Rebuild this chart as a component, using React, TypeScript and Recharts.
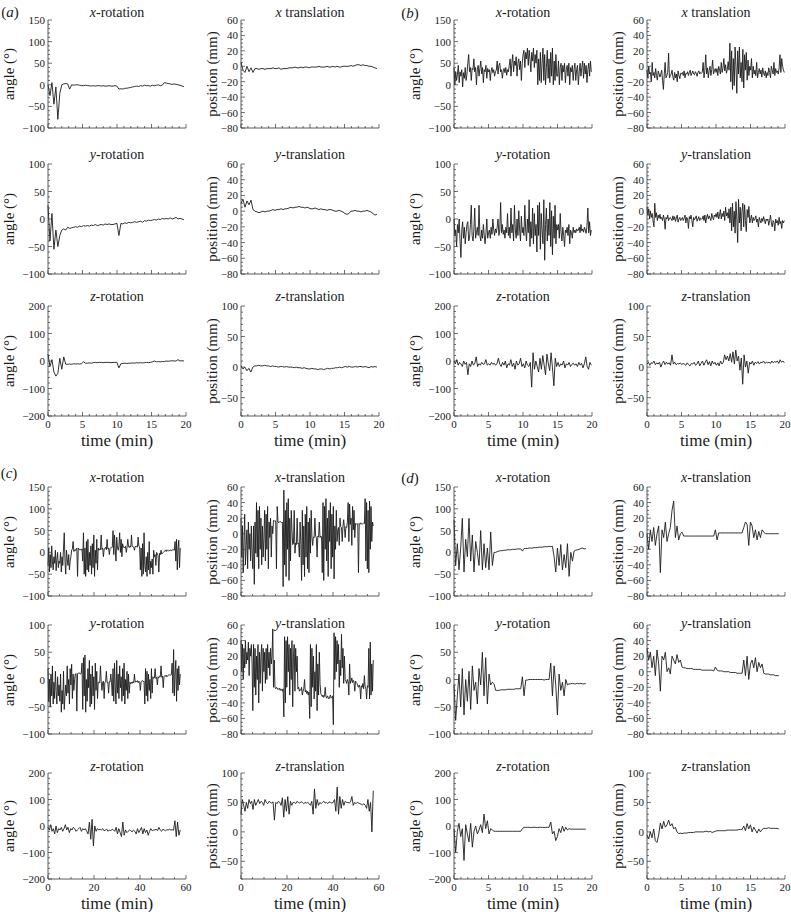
import React from 'react';
import { LineChart, Line, XAxis, YAxis } from 'recharts';

// ---- (a) ----
const aXRot = [0, -25, 5, -45, -5, -80, -20, 0, 2, 3, 2, -10, 0, -1, 0, 0, -1, -2, -2, -1, -2, -2, -3, -2, -3, -2, -2, -3, -2, -3, -3, -2, -3, -3, -2, -3, -10, -9, -10, -8, -8, -7, -6, -5, -4, -3, -4, -2, -3, -1, -2, -2, -3, -1, -2, -1, 0, -2, -1, 5, 4, 3, 2, 1, 2, 1, 0, -1, -3, -4];
const aXTrans = [5, -5, -8, 0, -7, -2, -8, -3, -3, -4, -3, -3, -4, -3, -3, -3, -2, -3, -3, -2, -4, -3, -3, -3, -2, -2, -2, -1, -2, -2, -1, -2, -1, -1, -2, -1, -1, -1, -1, 0, -1, -1, -1, 0, -1, -1, 0, -1, 0, -1, -1, 0, 0, 0, 0, 1, 0, 1, 2, 2, 1, 2, 1, 1, 0, 0, -1, -2, -3];
const aYRot = [25, -40, 10, -55, -20, -50, -30, -20, -18, -20, -15, -17, -16, -15, -14, -15, -13, -14, -12, -13, -12, -13, -11, -12, -10, -12, -11, -10, -11, -9, -10, -9, -10, -10, -9, -8, -30, -8, -9, -7, -8, -6, -7, -6, -5, -6, -5, -4, -6, -3, -4, -2, -3, -2, -1, -2, 0, -1, 1, 0, 1, 0, 2, 0, 1, 3, 0, 1, 0, -1];
const aYTrans = [10, 15, 5, 13, 8, 14, 2, 0, -1, -2, -1, 0, -1, 0, 0, 1, 2, 1, 2, 2, 3, 2, 3, 3, 4, 5, 4, 5, 5, 6, 5, 5, 4, 5, 4, 3, 3, 4, 3, 2, 3, 2, 2, 1, 2, 2, 1, 0, 0, 1, 0, -1, -3, -4, -3, 0, 0, 1, 0, 0, -1, 0, 0, 1, 0, -1, -3, -5, -4];
const aZRot = [25, -20, 5, -40, -55, -45, 10, -30, 15, -12, -12, -11, -12, -10, -11, -10, -11, -10, -3, -8, -8, -7, -8, -6, -5, -6, -5, -5, -6, -5, -5, -5, -6, -5, -5, -5, -25, -10, -9, -8, -9, -8, -8, -7, -8, -6, -7, -6, -7, -6, -5, -6, -5, -3, 0, -3, -2, -3, -2, -2, 0, -1, 0, 1, 0, 0, 5, 0, 1, 0];
const aZTrans = [2, -3, 0, -6, -2, -8, 0, 2, 2, 3, 2, 2, 3, 2, 2, 1, 2, 1, 1, 0, 1, 1, 0, 1, 0, 0, 0, -1, 0, -1, -1, -2, -1, -2, -3, -3, -2, -3, -3, -4, -3, -3, -4, -3, -2, -3, -2, -2, -1, -1, 0, -1, 0, 1, 0, 1, 0, 0, 1, 0, 1, 1, 0, 1, 0, -1, 1, 0, 1, 0];

// ---- (b) ----
const bXRot = [
  40, 0, 30, 10, 25, 45, 5, 30, 20, 35, -5, 28, 15, 40, 10, 25,
  50, 70, 30, 40, 10, 38, 35, 60, 30, 40, 0, 35, 45, 20, 38, 55, 25, 40, 5, 35, 30, 45, 15, 38,
  30, 35, 10, 32, 40, 28, 35, 20, 30, 34, 55, 25, 45, 50, 30, 35, 15, 32, 38, 28, 40, 22, 35, 30,
  45, 60, 20, 50, 70, 30, 55, 45, 65, 20, 50, 60, 35, 55, 10, 50,
  70, 80, 40, 75, 60, 85, 45, 80, 60, 30, 75, 55, 85, 40, 70, 50,
  80, 0, 60, 10, 75, 5, 50, 85, 10, 70, 0, 40, 80, 15, 60, 5, 75, 20, 85, 0, 55, 10, 70, 20,
  20, 55, 0, 40, 50, 10, 45, 30, 50, 5, 35, 45, 20, 50, 0, 40, 30, 45, 10, 35,
  50, 10, 35, 45, 0, 30, 50, 20, 40, 55, 15, 50, 25, 45, 5, 35, 50, 20, 55, 30,
];
const bXTrans = [
  -5, -15, 0, -10, -8, -20, 5, -12, -8, -15, -3, -12, -18, -6, -10, -14,
  -10, -5, -18, -30, -10, 5, -15, -12, -8, 17, -15, -12, -10, -5, -14, -18, -8, -15, -10, -20, -6, -12, -16, -9,
  -10, -8, -12, -6, -15, -9, -10, -7, -12, -8, -5, -12, -9, -6, -10, -11, -7, -9, -13, -8, -6, -10, -8, -9,
  -8, 5, -15, -5, 15, -10, -2, -15, -5, 0, -12, -4, 8, -10, -6, -3,
  -8, -3, -12, 0, -5, -10, 5, -8, -2, 10, -6, 2, -9, -4, 6, -5,
  30, -20, 20, -30, 10, -25, 25, 0, -35, 20, -10, 25, -15, 5, -20, 22, -28, 15, -5, 18, -18, 8, -12, 0,
  -5, 10, -15, 0, -10, -5, -12, 5, -15, -8, -3, -10, -5, -14, -2, -9, -12, -6, -15, -8,
  -12, -2, -8, -15, 0, -5, -10, 5, -12, -3, -8, -6, -10, -2, 15, -8, 10, 0, -5, -8,
];
const bYRot = [
  0, -30, -20, -50, -10, -25, 0, -40, -70, -20, -5, -35, -15, -45, -25, -10,
  -5, -40, -35, -10, 25, -30, -40, -20, 20, -35, -25, -15, -30, 25, -30, -40, -20, -35, -10, -30, -45, -25, 0, -35,
  -25, -20, -35, -15, -28, 0, -20, -30, -18, -25, -15, 0, -30, -20, 30, -25, -10, -28, -20, -35, -15, -25, 10, -30,
  -15, -35, 20, -25, -10, -40, 25, -20, -35, 0, -30, 15, -20, -40, 5, -25,
  -15, -30, 25, -20, -40, 0, -25, 35, -50, -5, -35, 20, -45, 10, -30, -10,
  -60, 25, -30, 30, -55, 10, -20, -45, 35, -75, -10, 20, -40, 0, -30, 30, -50, 15, -65, 5, -35, 25, -45, -10,
  -20, -10, -35, 10, -25, -40, -15, -30, -50, -20, -25, -15, -30, -10, -45, -20, -25, -35, -15, -25,
  -20, -25, -18, -22, -20, -15, -25, -10, -22, -18, -24, -15, -20, -26, -12, 20, -25, -5, -30, -20,
];
const bYTrans = [
  5, -5, 3, -10, 0, -8, -3, -12, -20, 10, -8, -2, -12, -5, -9, -4,
  -10, -8, -12, -5, -10, -23, -8, -10, -5, -12, -9, -8, -10, -12, -6, -11, -7, -13, -9, -5, -14, -10, -8, -12,
  -10, -8, -12, -9, -5, -15, -8, -10, -22, -7, -10, -5, -12, -20, -8, -11, -9, -6, -13, -10, -7, -12, -9, -10,
  -10, -6, -12, -5, -15, -8, -4, -10, -6, -9, -12, -3, -8, -11, -5, -7,
  -3, -8, -1, -10, -5, 2, -10, -3, -7, 0, -12, 5, -6, -2, -9, 3,
  -15, 5, -25, 10, -20, 0, -28, 12, -10, -40, 15, -15, 5, -25, 0, 10, -20, 8, -12, -26, 2, -8, 6, -15,
  -10, -5, -15, -8, -12, -10, -6, -14, -10, -20, -8, -12, -15, -9, -13, -7, -11, -16, -10, -12,
  -10, -18, -12, -5, -15, -20, -12, -14, -25, -10, -15, -12, -18, -8, -16, -13, -22, -12, -15, -12,
];
const bZRot = [0, -10, 5, -15, -5, -10, -20, 0, -12, -5, -50, -10, -20, 0, -15, -8, 15, -20, -10, -15, -5, -12, -10, 5, -15, -10, -15, -5, -12, -8, -15, -10, 10, -12, -20, -5, -15, 0, -25, -10, -15, 5, -20, -8, -30, 0, -15, -10, 10, -20, -10, -25, 0, -15, -20, -5, -95, 30, -30, 0, -20, -40, 10, -30, 20, -15, -50, 25, -10, -35, 30, -25, -90, 10, -20, -5, -20, -10, -15, 0, -25, -10, -15, -5, -20, -12, -8, -15, -10, -20, -5, -15, -8, -25, -10, 15, -20, -30, -5, -15];
const bZTrans = [5, 8, 3, 7, 6, 10, 4, 7, 5, 8, 0, 6, 10, 4, 8, 5, 7, 3, 20, 5, 8, 4, 6, 5, 7, 4, 6, 5, 3, 7, 4, 2, 6, 5, 8, 3, 5, 10, 2, 6, 10, 3, 8, 12, 4, 9, 2, 10, 5, 8, 3, 7, 2, 10, 5, 8, 20, 12, 18, 10, 22, 8, 25, 5, 28, 10, 18, -5, 15, -28, 20, 0, 10, -10, 8, 5, 10, 3, 8, 6, 9, 5, 8, 7, 10, 6, 8, 7, 8, 6, 10, 7, 9, 8, 10, 6, 12, 8, 10, 7];

// ---- (c) ----
const cXRot = [
  -30, 10, -45, -5, -35, 15, -20, -40, -10, -25, 5, -42, -15, 0, -35, -20,
  -25, 0, -45, -10, -30, 10, 45, -20, -50, 5, -15, -30, -5, -40, -20, -10,
  5, 8, 25, 2, 6, 4, 8, 10, -55, 10, 8, 6, 7, 5, 8,
  -20, 45, -50, 10, -55, 25, -40, 30, -45, 0, -30, 15, -50, 20, -35, 40, -55, 5, -25, 30, -40, 10,
  5, 8, 6, 40, 7, 10, -10, 8, 9, 12, 6, 30, 8, 10, -5, 9, 11, 10, 12,
  50, -5, 40, 10, -20, 35, 12, 5, 15, 45, 0, 30, -10, 20, 12,
  12, 10, 14, 0, 12, 30, 13, 11, 15, 12, 40, 14, 13, 12, 5, 14, 13, 15, 12, 35, 14, 13,
  -40, 10, -55, 20, -50, 45, -30, -45, -10, -55, 0, -40, 25, -50, -20, -35,
  -15, -50, 5, -10, -5, -30, 0, -3, -8, -45, -2, -5, 5, -4, -2,
  0, 2, 3, 5, 2, 6, 4, 3, 5, 4, 6, 3, 5, 7, 6, 5,
  25, -20, 30, -40, 10, 28, -35, 10,
];
const cXTrans = [
  20, -30, 10, -50, -10, 25, -40, -15, 5, -45, 15, -20, 0, -35, 10, -25,
  -45, 10, -65, 15, -25, 40, -30, 30, -45, 35, -20, 20, -40, 10, -30, -5,
  30, -35, 25, -20, 35, -45, 15, -5, 20, -30, 10, 0,
  17, 16, 17, 15, -45, 35, 16, 14, 15, 16, 15, 14, 15,
  -68, 56, -40, 30, -55, 40, -20, 45, -60, 20, -35, 30, 5,
  -14, -13, 30, -25, -12, -14, 20, -13, -12, -30, 15, -14,
  -60, 30, -40, 10, -55, 25, -30, 35, -45, 15, -50, 20, -25, 30, -5, -15,
  -4, -5, 20, -3, -5, -30, -3, -4, 15, -5, -3, -4,
  -50, 40, -60, 35, -20, 45, -35, 20, -55, 30, -10, 40, -45, 25, -30, 35, -58, 10, -20, 30, -10, 5,
  8, -15, 20, 9, 8, -10, 10, 18, 7, -5, 9, 8,
  15, 40, -10, 38, 12, 20, -15, 35, 5, 30, -5, 13,
  13, 12, 13, -50, 13, 12, 14, 13, 12, 13, 14, 13,
  45, -35, 40, -45, 30, -50, 42, -20, 35, -10, 15, 10,
];
const cYRot = [
  20, -40, 0, -50, 10, -30, 25, -45, -5, -35, 15, -20, -45, 5, -30, -10,
  -40, 10, -60, -20, -45, 15, -55, -30, -10,
  -30, 25, -25, 0, -45, 20, -10, 28, -35, 10, -20, 0,
  10, 11, -58, 10, 12, 11, 12, 10, 11,
  30, -55, 40, -30, 45, -60, 0, -40, 20, -15, 35, -50, 10, -45, 25, -30, 5, -55, 30, -20, 15, -35,
  -5, -5, -6, 25, -4, -20, -5, -3, -35, -5, -4, 15, -6, -5, -25, -4, -5, 10, -6,
  -30, 20, -40, 30, -10, -45, 35, -25, 10, -35, 25, -15, 5, -40, 20, -30, 30, -45, 0, -20, 15, -35, 10, -25, -5,
  -8, -5, -7, -4, -6, 10, -5, -3, -4, -2, -6, -3, -5, -20, -4, -3, -2, -4, -3,
  -45, 20, -30, 15, -40, 10, -20, 0, -35, 20, -25, 5,
  2, 3, 20, 2, 4, -10, 5, 3, 6, 5, 25, 4, 6, -15, 5, 7, 6, 8, 5,
  7, 8, 8, 9, 8, 9,
  30, -25, 55, -30, 10, 35, -40, 20, -20, 25, -10, 10,
];
const cYTrans = [
  40, 0, 35, -10, 30, 5, 40, 10, 25, 15, 38, -5, 30, 20, 35, 10,
  -50, 35, -20, 30, -30, 20, -10, 35, -40, 25, -15, 20,
  35, -25, 30, 0, 25, -15,
  30, -10, 35, 5, 25, -5, 30, 10, 20, 55, -20, 15,
  -20, -22, -20, -21, -23, -22, -21, -24, -22, -23, -25, -22,
  -58, 45, -40, 40, -20, 45, 0, 35, -30, 30, -10, 40, -45, 20, 35, -25, 30, 0, 20,
  -22, -20, -25, -23, -24, -20, -30, -25, -22, -10, -26, -24, -28, -25, -30, -26,
  -60, 35, -45, 30, -20, 20, -35, 0, -25, 35, -50, 10, -30, 25, -15, -28,
  -30, -32, -30, -33, -31, -20, -32, -34, -31, -33, -35, -32, -30, -34, -33, -31,
  -68, 50, -10, 45, 0, 40, 10, 35, -20, 15, -5, 48, 5, 30, -15, 20,
  -10, -12, -15, -10, -13, -30, 10, -15, -12, -8, -14, -11, -13, -25, -12, -14,
  -15, -18, -20, -17, -20, -35, -18, -20, -15, -22, -5, -19, -21, -35, -18, -20,
  30, -35, 38, -30, 10, -25, 15,
];
const cZRot = [-5, -15, 5, -20, -10, -30, 0, -25, -10, -15, -5, -20, -10, 5, -15, -5, -25, -10, -15, -5, -10, -20, -15, -10, -5, -20, -10, -15, -10, -20, -30, 15, -50, 25, -75, 0, -20, -10, -15, -12, -15, -10, -18, -15, -12, -20, -15, -18, -12, -15, -20, -5, -30, -10, -25, -40, 15, -35, -15, -25, -20, -15, -18, -22, -15, -20, -30, -10, -25, -15, -5, -30, -10, -25, -15, -35, -20, -10, -18, -15, -15, -12, -18, -5, -15, -20, -12, -15, -18, -14, -15, -12, -15, -14, -16, 20, -40, 15, -35, -15];
const cZTrans = [30, 55, 45, 35, 50, 40, 55, 48, 52, 38, 55, 45, 50, 55, 48, 52, 50, 45, 55, 50, 48, 52, 50, 49, 51, 20, 50, 48, 52, 50, 45, 58, 25, 55, 35, 60, 30, 52, 45, 50, 50, 48, 52, 50, 49, 51, 50, 48, 50, 49, 50, 48, 45, 52, 30, 73, 40, 55, 45, 50, 48, 50, 52, 49, 50, 48, 51, 50, 49, 50, 55, 35, 76, 30, 60, 40, 55, 45, 52, 50, 50, 49, 51, 60, 45, 50, 48, 50, 49, 48, 47, 46, 48, 45, 40, 55, 35, 50, 0, 70];

// ---- (d) ----
const dXRot = [75, -30, 20, -40, 10, 78, -45, 30, -10, 78, -20, 40, -45, 25, 0, -30, 50, -40, 20, -35, 10, -40, 47, -30, 0, 0, 2, 3, 4, 4, 5, 5, 6, 6, 6, 7, 7, 7, 8, 8, 8, 3, 9, 9, 9, 10, 10, 10, 11, 11, 11, 12, 12, 12, 13, 13, 13, 14, 13, 14, -10, -45, 10, -30, 18, -40, -5, -35, 20, -55, 0, -20, 3, 5, 6, 7, 9, 10, 8, 9];
const dXTrans = [0, -20, 5, -10, 8, -15, 0, 10, -50, 5, -5, 15, -10, 0, 8, 30, 42, -5, 10, -8, 0, 2, -3, -3, -3, -3, -3, -3, -3, -3, -3, -3, -3, -3, -3, -3, -3, -3, -3, -3, -3, 5, -8, 1, 1, 1, 1, 1, 1, 1, 1, 1, 1, 1, 1, 1, 1, 1, 8, 15, 12, -15, 15, 10, -5, 5, -8, 3, -5, 5, 2, 0, 0, 0, 0, 0, 0, 0, 0, 0];
const dYRot = [-10, -75, -30, 10, -50, 20, -65, 0, -40, 15, -55, 25, -20, -5, -45, 20, -10, 50, -30, 40, -45, 10, -10, -5, -8, -20, -20, -20, -19, -19, -19, -19, -18, -18, -18, -18, -18, -17, -17, -17, -17, 5, -30, -1, -1, 0, 0, 0, 0, 0, 0, 0, 0, 0, -1, 0, 0, 0, 30, -30, 25, -10, -65, 10, -20, -5, -30, 0, -10, -8, -8, -7, -8, -8, -7, -8, -7, -8, -8, -7];
const dYTrans = [30, 15, 25, 5, 20, -5, 28, 10, -25, 20, 15, 25, 0, 5, -3, 20, 15, 10, 22, 12, 15, 6, 5, 5, 4, 4, 4, 4, 3, 3, 3, 3, 3, 2, 2, 2, 2, 2, 2, 2, 1, 6, 2, 1, 1, 1, 0, 0, 0, 0, -1, -1, -1, -1, -2, -2, -2, -2, 15, -5, 20, -10, 10, 15, 5, 18, 0, 12, 5, 10, -2, -3, -3, -3, -4, -4, -4, -5, -5, -5];
const dZRot = [-10, -100, -20, 10, -40, -10, -130, 5, -30, -60, 10, -80, -20, 0, -30, -15, 5, -25, 45, -10, 20, -30, -10, -15, -20, -20, -20, -20, -20, -20, -20, -20, -20, -20, -20, -20, -20, -20, -20, -20, -20, -10, -5, -5, -5, -5, -6, -5, -5, -5, -6, -5, -5, -5, -6, -5, -5, -5, 15, -30, -20, -55, -40, -10, -25, 0, -20, -5, -15, -10, -12, -12, -12, -12, -12, -12, -12, -12, -12, -12];
const dZTrans = [-5, -12, 0, -10, 5, -15, -18, -5, 15, 5, 18, 8, 12, 20, 10, 14, 5, 8, 0, -3, -2, -3, -2, -2, -2, -1, -1, -1, -1, 0, 0, 0, 0, 0, 0, 1, 1, 0, 1, -1, 0, 1, 2, 2, 2, 2, 2, 2, 3, 3, 3, 3, 3, 3, 3, 4, 4, 4, 10, 2, 14, 5, 12, 0, 8, 3, -2, 5, 0, 4, 6, 6, 6, 7, 6, 6, 6, 6, 6, 5];

// recording length (min) for each group
const groupEnd = [19.7, 19.9, 57.5, 19.1];
const groupLetters = ['a', 'b', 'c', 'd'];

// tick labels
const rotXTicks = [-100, -50, 0, 50, 100, 150];
const rotYTicks = [-100, -50, 0, 50, 100];
const rotZTicks = [-200, -100, 0, 100, 200];
const transXYTicks = [-80, -60, -40, -20, 0, 20, 40, 60];
const transZTicks = [-50, 0, 50, 100];
const timeTicks20 = [0, 5, 10, 15, 20];
const timeTicks60 = [0, 20, 40, 60];

type AxisSpec = { domain: [number, number]; majors: number[]; minor: number; label: string };

const ROT_X: AxisSpec = { domain: [-100, 150], majors: rotXTicks, minor: 10, label: 'angle (°)' };
const ROT_Y: AxisSpec = { domain: [-100, 100], majors: rotYTicks, minor: 10, label: 'angle (°)' };
const ROT_Z: AxisSpec = { domain: [-200, 200], majors: rotZTicks, minor: 20, label: 'angle (°)' };
const TR_XY: AxisSpec = { domain: [-80, 60], majors: transXYTicks, minor: 5, label: 'position (mm)' };
const TR_Z: AxisSpec = { domain: [-80, 100], majors: transZTicks, minor: 10, label: 'position (mm)' };

const SERIF = '"Liberation Serif", "DejaVu Serif", serif';
const INK = '#1a1a1a';
const AXIS = '#333';

// layout
const COL_LEFT = [48, 241, 454, 647];
const ROW_TOP = [20, 164, 306, 487, 625, 773];
const ROW_H = [108, 110, 110, 109, 109, 106];
const TITLE_Y = [13, 155, 297, 478, 624, 767];
const PLOT_W = 138;
const M_TOP = 8;
const Y_W = 50;
const X_H = 20;

const series = [
  [aXRot, aXTrans, aYRot, aYTrans, aZRot, aZTrans],
  [bXRot, bXTrans, bYRot, bYTrans, bZRot, bZTrans],
  [cXRot, cXTrans, cYRot, cYTrans, cZRot, cZTrans],
  [dXRot, dXTrans, dYRot, dYTrans, dZRot, dZTrans],
];
const specs = [ROT_X, TR_XY, ROT_Y, TR_XY, ROT_Z, TR_Z];
const axisNames = ['x', 'x', 'y', 'y', 'z', 'z'];

const fmt = (v: number) => (v < 0 ? `\u2212${Math.abs(v)}` : String(v));

const allTicks = (lo: number, hi: number, step: number) => {
  const out: number[] = [];
  for (let v = lo; v <= hi; v += step) out.push(v);
  return out;
};

const Txt = ({ x, y, size, rotate, children }: any) => (
  <div
    style={{
      position: 'absolute',
      left: x,
      top: y,
      transform: `translate(-50%, -50%)${rotate ? ' rotate(-90deg)' : ''}`,
      fontSize: size,
      lineHeight: 1,
      whiteSpace: 'nowrap',
      fontFamily: SERIF,
      color: INK,
    }}
  >
    {children}
  </div>
);

const Panel = ({ g, k }: { g: number; k: number }) => {
  const values = series[g][k];
  const spec = specs[k];
  const row = (g >= 2 ? 3 : 0) + Math.floor(k / 2);
  const col = (g % 2) * 2 + (k % 2);
  const left = COL_LEFT[col];
  const top = ROW_TOP[row];
  const h = ROW_H[row];
  const bottomRow = k >= 4;
  const tEnd = groupEnd[g];
  const xMajors = g === 2 ? timeTicks60 : timeTicks20;
  const xMax = g === 2 ? 60 : 20;
  const xMinor = g === 2 ? 5 : 1;
  const data = values.map((v, i) => ({ t: (i * tEnd) / (values.length - 1), v }));

  const xTick = (p: any) => {
    const major = xMajors.includes(p.payload.value);
    return (
      <g>
        <line x1={p.x} x2={p.x} y1={p.y} y2={p.y - (major ? 4 : 2)} stroke={AXIS} strokeWidth={0.7} />
        {major && bottomRow && (
          <text x={p.x} y={p.y + 12} textAnchor="middle" fontSize={11} fontFamily={SERIF} fill={INK}>
            {fmt(p.payload.value)}
          </text>
        )}
      </g>
    );
  };
  const yTick = (p: any) => {
    const major = spec.majors.includes(p.payload.value);
    return (
      <g>
        <line x1={p.x} x2={p.x + (major ? 4 : 2)} y1={p.y} y2={p.y} stroke={AXIS} strokeWidth={0.7} />
        {major && (
          <text x={p.x - 3} y={p.y + 4} textAnchor="end" fontSize={11} fontFamily={SERIF} fill={INK}>
            {fmt(p.payload.value)}
          </text>
        )}
      </g>
    );
  };

  const isRot = k % 2 === 0;
  return (
    <>
      <div style={{ position: 'absolute', left: left - Y_W, top: top - M_TOP }}>
        <LineChart
          width={Y_W + PLOT_W + 6}
          height={M_TOP + h + X_H}
          data={data}
          margin={{ top: M_TOP, right: 6, bottom: 0, left: 0 }}
        >
          <XAxis
            dataKey="t"
            type="number"
            domain={[0, xMax]}
            ticks={allTicks(0, xMax, xMinor)}
            interval={0}
            height={X_H}
            tickSize={0}
            tickMargin={0}
            tickLine={false}
            axisLine={{ stroke: AXIS, strokeWidth: 0.8 }}
            tick={xTick}
          />
          <YAxis
            type="number"
            domain={spec.domain}
            ticks={allTicks(spec.domain[0], spec.domain[1], spec.minor)}
            interval={0}
            width={Y_W}
            tickSize={0}
            tickMargin={0}
            tickLine={false}
            axisLine={{ stroke: AXIS, strokeWidth: 0.8 }}
            tick={yTick}
            allowDataOverflow
          />
          <Line
            type="linear"
            dataKey="v"
            stroke="#1c1c1c"
            strokeWidth={0.9}
            dot={false}
            isAnimationActive={false}
          />
        </LineChart>
      </div>
      <Txt x={left + PLOT_W / 2} y={TITLE_Y[row]} size={14}>
        <i>{axisNames[k]}</i>
        {isRot ? '-rotation' : k === 1 && g < 2 ? ' translation' : '-translation'}
      </Txt>
      <Txt x={left - (isRot ? 39 : 29)} y={top + h / 2} size={15} rotate>
        {spec.label}
      </Txt>
      {bottomRow && (
        <Txt x={left + PLOT_W / 2} y={top + h + 24} size={17}>
          time (min)
        </Txt>
      )}
    </>
  );
};

const LETTER_POS = [
  [10, 12],
  [410, 13],
  [9, 473],
  [410, 478],
];

export default function App() {
  return (
    <div
      style={{
        position: 'absolute',
        left: 0,
        top: 0,
        width: 791,
        height: 912,
        overflow: 'hidden',
        background: '#fff',
      }}
    >
      {series.map((grp, g) => grp.map((_, k) => <Panel key={`${g}-${k}`} g={g} k={k} />))}
      {groupLetters.map((l, g) => (
        <Txt key={l} x={LETTER_POS[g][0]} y={LETTER_POS[g][1]} size={15}>
          (<i>{l}</i>)
        </Txt>
      ))}
    </div>
  );
}
